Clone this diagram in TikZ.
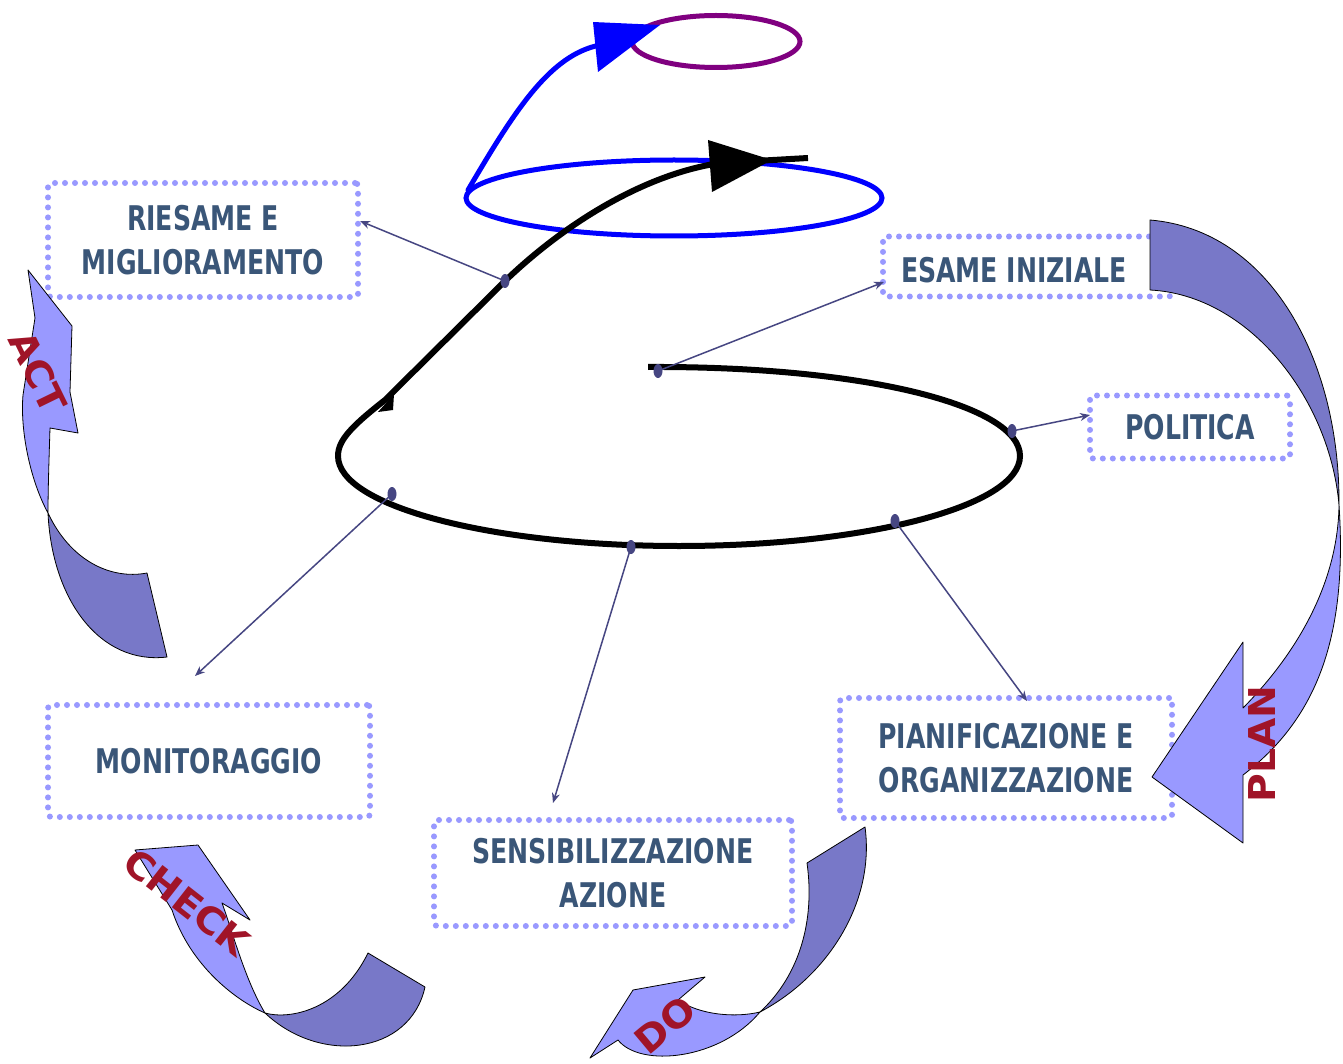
\documentclass[tikz,border=0pt]{standalone}
\usepackage{fontspec}
\usetikzlibrary{shapes.geometric,arrows.meta}
\newfontfamily\labfont[FakeStretch=0.74]{DejaVu Sans}
\newfontfamily\pdcafont[FakeStretch=1.06]{DejaVu Sans}
\definecolor{labcol}{RGB}{58,86,120}
\definecolor{dotcol}{RGB}{153,153,255}
\definecolor{conncol}{RGB}{70,70,130}
\definecolor{lightarr}{RGB}{153,153,255}
\definecolor{darkarr}{RGB}{120,120,200}
\definecolor{pdcared}{RGB}{160,20,40}
\definecolor{purp}{RGB}{128,0,128}
\definecolor{spiralblue}{RGB}{0,0,255}
\begin{document}
\begin{tikzpicture}[x=1pt,y=-1pt,
  box/.style={draw=dotcol, line width=6pt, line cap=round,
    dash pattern=on 0pt off 10pt, rounded corners=3pt, inner sep=0pt,
    align=center, text=labcol,
    font=\labfont\bfseries\fontsize{34}{44}\selectfont},
  lab/.style={inner sep=0pt, align=center, text=labcol,
    font=\labfont\bfseries\fontsize{34}{44}\selectfont},
  conn/.style={draw=conncol, line width=1.5pt, -{Stealth[length=10pt,width=8pt]}},
  dotm/.style={ellipse, fill=conncol, minimum width=9pt, minimum height=14pt, inner sep=0pt},
  blk/.style={draw=black, line width=0.8pt, line join=round},
  pdca/.style={inner sep=0pt, text=pdcared,
    font=\pdcafont\bfseries\fontsize{37}{42}\selectfont},
  spiral/.style={line width=5pt, line cap=round}
]
\useasboundingbox (0,0) rectangle (1343,1064);
\fill[white] (0,0) rectangle (1343,1064);

% ---- boxes ----
\node[box, minimum width=310pt, minimum height=114pt] (riesame) at (203,240) {RIESAME E\\MIGLIORAMENTO};
\node[box, minimum width=289pt, minimum height=60pt] (esamebox) at (1027.5,266.5) {};
\node[lab] (esame) at (1014,270) {ESAME INIZIALE};
\node[box, minimum width=200pt, minimum height=63pt] (politica) at (1190,427) {POLITICA};
\node[box, minimum width=332pt, minimum height=120pt] (pianif) at (1006,758) {PIANIFICAZIONE E\\ORGANIZZAZIONE};
\node[box, minimum width=358pt, minimum height=106pt] (sensib) at (613,873) {SENSIBILIZZAZIONE\\AZIONE};
\node[box, minimum width=322pt, minimum height=112pt] (monit) at (209,761) {MONITORAGGIO};

% ---- upper ellipses ----
\draw[spiral, draw=purp] (716,41.5) ellipse [x radius=84, y radius=26];
\draw[spiral, draw=spiralblue] (674,198) ellipse [x radius=208, y radius=38];
\draw[spiral, draw=spiralblue] (468,190) .. controls (515,110) and (550,55) .. (600,45);
\fill[spiralblue] (593,22) -- (598,72) -- (660,25) -- cycle;

% ---- black spiral ----
\draw[spiral, line width=6pt, line cap=butt, draw=black]
  (648,367) .. controls (867,366) and (1020,406) .. (1020,456)
  .. controls (1020,506) and (867,546) .. (679,546)
  .. controls (491,546) and (338,506) .. (338,456)
  .. controls (338,440) and (352,426) .. (385,400)
  -- (505,281)
  .. controls (560,228) and (640,175) .. (720,163) -- (808,158);
\fill[black] (708,140) -- (712,192) -- (772,160) -- cycle;
\fill[black] (394,394) -- (393,410) -- (378,412) -- cycle;

% ---- connectors ----
\node[dotm] (d1) at (505,281) {};
\node[dotm] (d2) at (658,371) {};
\node[dotm] (d3) at (1012,431) {};
\node[dotm] (d4) at (895,521) {};
\node[dotm] (d5) at (631,547) {};
\node[dotm] (d6) at (392,494) {};
\coordinate (e1) at (360,221);
\coordinate (e2) at (884,282);
\coordinate (e3) at (1090,415);
\coordinate (e4) at (1027,701);
\coordinate (e5) at (553,803);
\coordinate (e6) at (195,676);
\draw[conn] (d1.center) -- (e1);
\draw[conn] (d2.center) -- (e2);
\draw[conn] (d3.center) -- (e3);
\draw[conn] (d4.center) -- (e4);
\draw[conn] (d5.center) -- (e5);
\draw[conn] (d6.center) -- (e6);

% ---- PLAN arrow ----
\filldraw[blk, fill=darkarr] (1150,220) .. controls (1270,230) and (1340,360) .. (1339,505)
  .. controls (1330,400) and (1250,295) .. (1150,290) -- cycle;
\filldraw[blk, fill=lightarr] (1339,505) .. controls (1348,640) and (1315,720) .. (1243,775)
  -- (1243,843) -- (1152,777) -- (1243,642) -- (1243,708)
  .. controls (1300,650) and (1338,580) .. (1339,505) -- cycle;
\node[pdca, rotate=90] (plan) at (1262,744) {PLAN};

% ---- DO arrow ----
\filldraw[blk, fill=darkarr] (760,1012) .. controls (830,975) and (875,900) .. (865,827)
  -- (807,863) .. controls (815,920) and (800,975) .. (760,1012) -- cycle;
\filldraw[blk, fill=lightarr] (678,1000) -- (705,977) -- (633,990) -- (590,1058) -- (618,1040)
  .. controls (640,1068) and (720,1060) .. (760,1012)
  .. controls (735,1018) and (700,1015) .. (678,1000) -- cycle;
\node[pdca, rotate=40] (do) at (665,1025) {DO};

% ---- CHECK arrow ----
\filldraw[blk, fill=darkarr] (265,1013) .. controls (290,1020) and (340,1010) .. (368,953)
  -- (425,987) .. controls (410,1055) and (320,1065) .. (265,1013) -- cycle;
\filldraw[blk, fill=lightarr] (135,850) -- (198,845) -- (250,920) -- (222,903)
  .. controls (232,930) and (245,980) .. (265,1013)
  .. controls (235,1000) and (190,965) .. (172,910) -- cycle;
\node[pdca, rotate=-38] (check) at (187,902) {CHECK};

% ---- ACT arrow ----
\filldraw[blk, fill=darkarr] (48,513) .. controls (52,600) and (100,665) .. (167,657)
  -- (147,573) .. controls (110,580) and (70,560) .. (48,513) -- cycle;
\filldraw[blk, fill=lightarr] (28,270) -- (72,326) -- (70,392) -- (78,433) -- (50,428)
  .. controls (49,460) and (48,490) .. (48,513)
  .. controls (30,480) and (20,430) .. (23,395) -- (35,318) -- cycle;
\node[pdca, rotate=-64] (act) at (38,372) {ACT};
\end{tikzpicture}
\end{document}
